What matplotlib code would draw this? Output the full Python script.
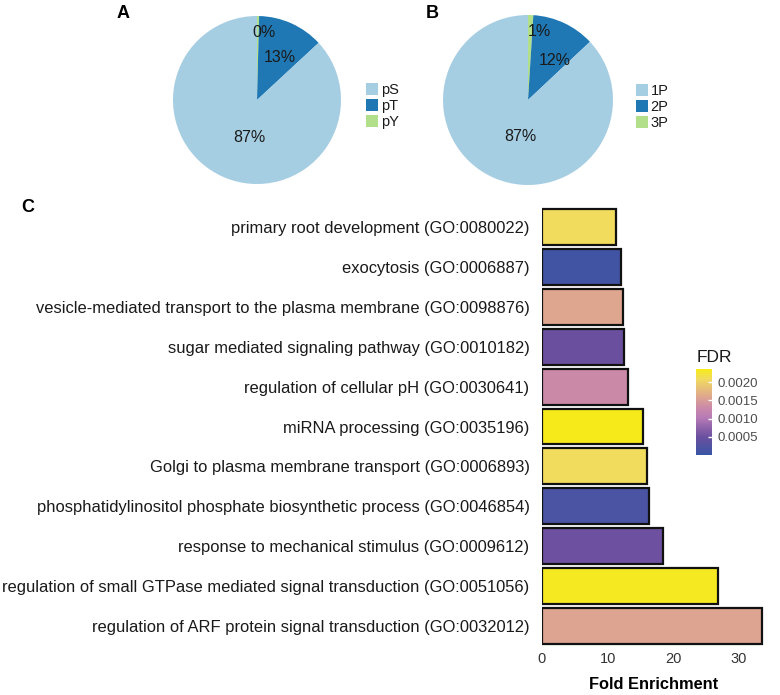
import numpy as np
import matplotlib
matplotlib.use("Agg")
import matplotlib.pyplot as plt
from matplotlib.colors import LinearSegmentedColormap, Normalize
from matplotlib.patches import Patch
import matplotlib.colorbar as mcolorbar

plt.rcParams['font.family'] = ['Liberation Sans', 'DejaVu Sans']

# ---- data ----
residue_labels = ["pS", "pT", "pY"]
residue_pct = [86.9, 12.7, 0.4]
phos_labels = ["1P", "2P", "3P"]
phos_pct = [87.0, 12.0, 1.0]

go_terms = [
    "primary root development (GO:0080022)",
    "exocytosis (GO:0006887)",
    "vesicle-mediated transport to the plasma membrane (GO:0098876)",
    "sugar mediated signaling pathway (GO:0010182)",
    "regulation of cellular pH (GO:0030641)",
    "miRNA processing (GO:0035196)",
    "Golgi to plasma membrane transport (GO:0006893)",
    "phosphatidylinositol phosphate biosynthetic process (GO:0046854)",
    "response to mechanical stimulus (GO:0009612)",
    "regulation of small GTPase mediated signal transduction (GO:0051056)",
    "regulation of ARF protein signal transduction (GO:0032012)",
]
fold_enrichment = [11.3, 12.1, 12.3, 12.5, 13.1, 15.4, 16.0, 16.3, 18.4, 26.9, 33.6]
fdr = [0.00210, 0.00008, 0.00160, 0.00050, 0.00130, 0.00235, 0.00210,
       0.00018, 0.00052, 0.00232, 0.00158]
fdr_ticks = [0.0005, 0.0010, 0.0015, 0.0020]

pie_colors = ["#A6CEE3", "#1F78B4", "#B2DF8A"]

W, H = 780, 695
fig = plt.figure(figsize=(W / 100, H / 100), dpi=100)

def px_axes(x0, y0, x1, y1):
    return fig.add_axes([x0 / W, 1 - y1 / H, (x1 - x0) / W, (y1 - y0) / H])

def draw_pie(cx, cy, r, labels, vals, legend_xy, label_pos):
    ax = px_axes(cx - r, cy - r, cx + r, cy + r)
    order = [2, 1, 0]  # clockwise from top: smallest, middle, largest
    v = [vals[i] for i in order]
    c = [pie_colors[i] for i in order]
    wedges, _, autot = ax.pie(v, colors=c, startangle=90, counterclock=False,
                              autopct='%.0f%%', pctdistance=0.5,
                              wedgeprops=dict(linewidth=0),
                              textprops=dict(fontsize=11.5, color="#1a1a1a"))
    for t, p in zip(autot, label_pos):
        t.set_position(p)
    ax.set_xlim(-1, 1)
    ax.set_ylim(-1, 1)
    ax.set_aspect('equal')
    handles = [Patch(facecolor=pie_colors[i], edgecolor='none') for i in range(3)]
    fig.legend(handles, labels, loc='upper left',
               bbox_to_anchor=(legend_xy[0] / W, 1 - legend_xy[1] / H),
               frameon=False, fontsize=10.5, handlelength=0.8, handleheight=0.9,
               labelspacing=0.12, handletextpad=0.2, borderpad=0, borderaxespad=0,
               labelcolor="#1a1a1a")

draw_pie(257, 100, 84, residue_labels, residue_pct, (366, 83),
         [(0.08, 0.80), (0.27, 0.50), (-0.095, -0.45)])
draw_pie(528, 100, 85, phos_labels, phos_pct, (636, 84),
         [(0.13, 0.80), (0.32, 0.46), (-0.094, -0.435)])

fig.text(123 / W, 1 - 13 / H, "A", fontsize=13, fontweight='bold', ha='center', va='center')
fig.text(432 / W, 1 - 13 / H, "B", fontsize=13, fontweight='bold', ha='center', va='center')
fig.text(28 / W, 1 - 208 / H, "C", fontsize=13, fontweight='bold', ha='center', va='center')

# ---- bar chart ----
cmap = LinearSegmentedColormap.from_list("fdr", [
    (0.0, "#3A55A5"),
    (0.21, "#6A4F9F"),
    (0.43, "#B67AB6"),
    (0.55, "#CA89A8"),
    (0.68, "#DEA68F"),
    (0.89, "#F2DC5D"),
    (1.0, "#F6EB18"),
])
norm = Normalize(vmin=0.0, vmax=0.00236)

ax = px_axes(542, 207, 765, 646)
y = np.arange(len(go_terms))
ax.barh(y, fold_enrichment, height=0.9, color=cmap(norm(np.array(fdr))),
        edgecolor="#111111", linewidth=1.6)
ax.set_ylim(len(go_terms) - 0.5, -0.5)
ax.set_xlim(0, 34)
ax.set_yticks(y)
ax.set_yticklabels(go_terms, fontsize=11.9, color="#1a1a1a")
ax.set_xticks([0, 10, 20, 30])
ax.tick_params(axis='y', length=0, pad=9)
ax.tick_params(axis='x', length=0, pad=4, labelsize=10.5, labelcolor="#333333")
for s in ax.spines.values():
    s.set_visible(False)
ax.set_xlabel("Fold Enrichment", fontsize=11.8, fontweight='bold', labelpad=8)

cax = px_axes(696, 369, 712, 455)
cb = mcolorbar.ColorbarBase(cax, cmap=cmap, norm=norm, orientation='vertical')
cb.outline.set_visible(False)
cb.set_ticks(fdr_ticks)
cb.set_ticklabels(["%.4f" % t for t in fdr_ticks])
cax.tick_params(direction='in', color='white', length=3, width=1, labelsize=9.5,
                labelcolor="#4d4d4d", pad=4)
fig.text(697 / W, 1 - 358 / H, "FDR", fontsize=12.5, ha='left', va='center', color="#1a1a1a")

fig.savefig("out.png", dpi=100)
